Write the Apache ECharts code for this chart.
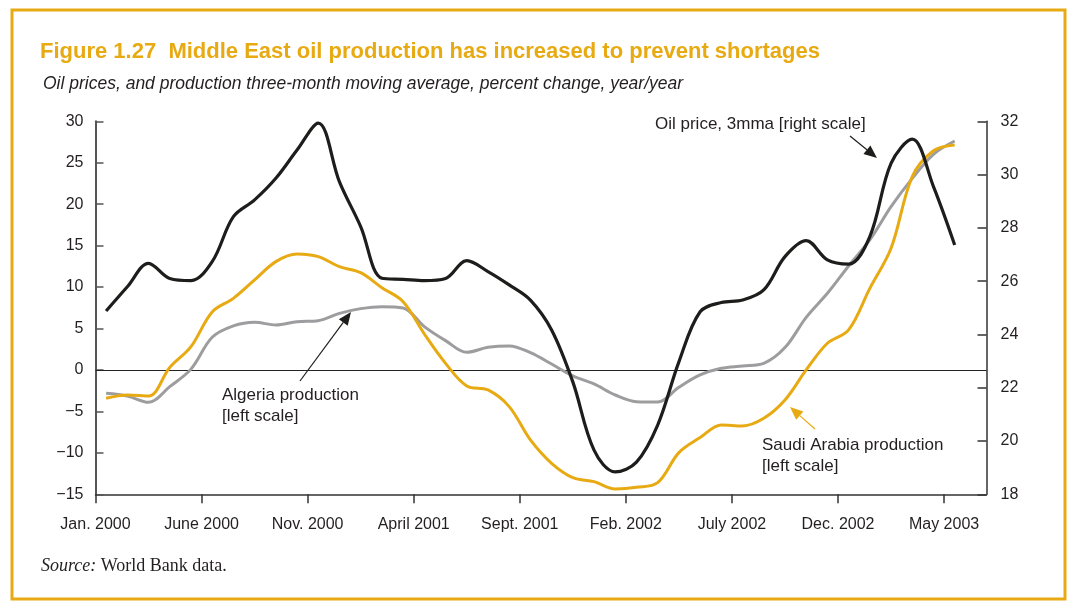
<!DOCTYPE html>
<html>
<head>
<meta charset="utf-8">
<script src="https://cdn.jsdelivr.net/npm/echarts@6/dist/echarts.min.js"></script>
<style>
html,body{margin:0;padding:0;background:#fff;}
#chart{width:1067px;height:601px;}
</style>
</head>
<body>
<div id="chart"></div>
<script>
// Monthly observations, Jan. 2000 ... May 2003 (41 months)
const tickLabels = ['Jan. 2000','June 2000','Nov. 2000','April 2001','Sept. 2001','Feb. 2002','July 2002','Dec. 2002','May 2003'];
const tickMonths = [0, 5, 10, 15, 20, 25, 30, 35, 40];

// Oil price, 3mma (right scale)
const oilPrice = [24.88, 25.79, 26.67, 26.10, 26.02, 26.73, 28.42, 29.05, 29.86, 30.92,
  31.93, 29.73, 28.05, 26.11, 26.07, 26.02, 26.10, 26.77, 26.36, 25.86,
  25.29, 24.17, 22.22, 19.66, 18.84, 19.21, 20.60, 22.97, 24.85, 25.20,
  25.29, 25.67, 26.92, 27.52, 26.80, 26.64, 27.67, 30.42, 31.33, 29.55, 27.36];

// Saudi Arabia production (left scale)
const saudi = [-3.42, -3.02, -3.14, 0.30, 2.81, 7.00, 8.64, 10.86, 13.07, 13.99,
  13.67, 12.46, 11.74, 9.93, 8.24, 4.34, 0.80, -1.93, -2.41, -4.42,
  -8.44, -11.26, -12.99, -13.47, -14.35, -14.15, -13.59, -9.97, -8.16, -6.63,
  -6.75, -5.83, -3.62, 0.00, 3.22, 4.83, 9.85, 14.68, 23.32, 26.45, 27.14];

// Algeria production (left scale)
const algeria = [-2.81, -3.14, -3.90, -2.01, 0.10, 3.94, 5.31, 5.75, 5.43, 5.83,
  5.95, 6.83, 7.40, 7.64, 7.48, 5.23, 3.54, 2.13, 2.73, 2.90,
  2.09, 0.72, -0.72, -1.69, -3.02, -3.82, -3.86, -2.09, -0.60, 0.20,
  0.48, 0.80, 2.70, 6.35, 9.25, 12.55, 15.68, 19.70, 23.12, 26.02, 27.62];

// month index -> centre of that month on the month axis
const pts = arr => arr.map((v, i) => [i + 0.5, v]);

const GOLD = '#E8AA12';
const TEXT = '#231f20';
const SANS = '"Liberation Sans", Arial, Helvetica, sans-serif';
const SERIF = '"Liberation Serif", "DejaVu Serif", serif';

function arrow(x1, y1, x2, y2, color, width) {
  const dx = x2 - x1, dy = y2 - y1, L = Math.hypot(dx, dy);
  const ux = dx / L, uy = dy / L, hl = 13, hw = 5.5;
  const bx = x2 - ux * hl, by = y2 - uy * hl;
  return [
    { type: 'line', shape: { x1: x1, y1: y1, x2: bx, y2: by }, style: { stroke: color, lineWidth: width } },
    { type: 'polygon', shape: { points: [[x2, y2], [bx - uy * hw, by + ux * hw], [bx + uy * hw, by - ux * hw]] }, style: { fill: color } }
  ];
}

const chart = echarts.init(document.getElementById('chart'), null, { renderer: 'canvas' });

const option = {
  animation: false,
  backgroundColor: '#fff',
  grid: { left: 95.5, right: 80.5, top: 121.3, bottom: 106.7, containLabel: false },
  xAxis: {
    type: 'value', min: 0, max: 42, interval: 5,
    splitLine: { show: false },
    axisLine: { show: true, onZero: false, lineStyle: { color: '#333', width: 1.5 } },
    axisTick: { show: true, inside: false, length: 9, customValues: tickMonths, lineStyle: { color: '#333', width: 1.5 } },
    axisLabel: {
      customValues: tickMonths,
      formatter: v => tickLabels[tickMonths.indexOf(v)] || '',
      color: TEXT, fontFamily: SANS, fontSize: 16, margin: 22
    }
  },
  yAxis: [
    {
      type: 'value', min: -15, max: 30, interval: 5, position: 'left',
      splitLine: { show: false },
      axisLine: { show: true, onZero: false, lineStyle: { color: '#555', width: 2 } },
      axisTick: { show: true, inside: true, length: 8, lineStyle: { color: '#555', width: 1.5 } },
      axisLabel: { color: TEXT, fontFamily: SANS, fontSize: 16, margin: 12,
        formatter: v => (v < 0 ? '\u2212' + Math.abs(v) : String(v)) }
    },
    {
      type: 'value', min: 18, max: 32, interval: 2, position: 'right',
      splitLine: { show: false },
      axisLine: { show: true, onZero: false, lineStyle: { color: '#333', width: 1.5 } },
      axisTick: { show: true, inside: true, length: 9, lineStyle: { color: '#333', width: 1.5 } },
      axisLabel: { color: TEXT, fontFamily: SANS, fontSize: 16, margin: 14 }
    }
  ],
  series: [
    {
      name: 'Algeria production', type: 'line', yAxisIndex: 0, data: pts(algeria),
      symbol: 'none', smooth: 0.35, lineStyle: { color: '#9d9d9f', width: 3 }, z: 3,
      markLine: {
        silent: true, symbol: 'none', label: { show: false },
        lineStyle: { color: '#222', width: 1.2, type: 'solid' },
        data: [{ yAxis: 0 }], z: 1
      }
    },
    {
      name: 'Saudi Arabia production', type: 'line', yAxisIndex: 0, data: pts(saudi),
      symbol: 'none', smooth: 0.35, lineStyle: { color: GOLD, width: 3 }, z: 4
    },
    {
      name: 'Oil price, 3mma', type: 'line', yAxisIndex: 1, data: pts(oilPrice),
      symbol: 'none', smooth: 0.35, lineStyle: { color: '#1d1d1b', width: 3.2 }, z: 5
    }
  ],
  graphic: [
    { type: 'rect', shape: { x: 12, y: 10, width: 1053, height: 589 }, style: { fill: 'none', stroke: GOLD, lineWidth: 3 }, z: 0 },
    { type: 'text', x: 40, y: 52, style: { text: 'Figure 1.27  Middle East oil production has increased to prevent shortages',
        fill: GOLD, font: 'bold 22px ' + SANS, textVerticalAlign: 'middle' } },
    { type: 'text', x: 43, y: 84, style: { text: 'Oil prices, and production three-month moving average, percent change, year/year',
        fill: TEXT, font: 'italic 17.5px ' + SANS, textVerticalAlign: 'middle' } },
    { type: 'text', x: 655, y: 124, style: { text: 'Oil price, 3mma [right scale]', fill: TEXT, font: '17px ' + SANS, textVerticalAlign: 'middle' } },
    { type: 'text', x: 222, y: 395, style: { text: 'Algeria production', fill: TEXT, font: '17px ' + SANS, textVerticalAlign: 'middle' } },
    { type: 'text', x: 222, y: 416, style: { text: '[left scale]', fill: TEXT, font: '17px ' + SANS, textVerticalAlign: 'middle' } },
    { type: 'text', x: 762, y: 445, style: { text: 'Saudi Arabia production', fill: TEXT, font: '17px ' + SANS, textVerticalAlign: 'middle' } },
    { type: 'text', x: 762, y: 466, style: { text: '[left scale]', fill: TEXT, font: '17px ' + SANS, textVerticalAlign: 'middle' } },
    { type: 'text', x: 41, y: 566, style: { rich: {
        i: { font: 'italic 18px ' + SERIF, fill: TEXT },
        n: { font: '18px ' + SERIF, fill: TEXT } },
        text: '{i|Source:}{n| World Bank data.}', textVerticalAlign: 'middle' } }
  ]
    .concat(arrow(850, 136, 877, 158, '#1d1d1b', 1.2))
    .concat(arrow(300, 381, 351, 312, '#1d1d1b', 1.2))
    .concat(arrow(815, 429, 790, 407, GOLD, 1.2))
};

chart.setOption(option);
</script>
</body>
</html>
